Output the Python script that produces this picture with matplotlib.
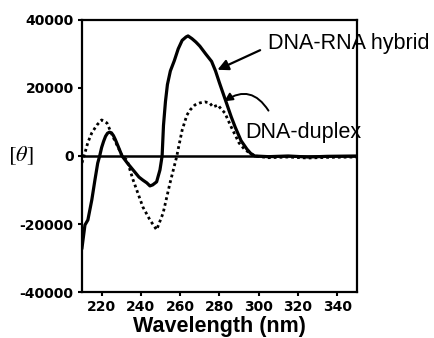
import matplotlib
matplotlib.use("Agg")
import matplotlib.pyplot as plt

plt.rcParams["mathtext.fontset"] = "stix"

# CD spectra
hybrid_wl = [210, 211.5, 213, 215, 216.6, 218, 219, 220, 221, 222, 223, 224, 225, 226,
             227, 228, 229, 230.4, 233, 236, 239, 241, 243, 244.6, 246, 248, 249.7, 250.8,
             251.5, 252.5, 253.5, 255, 257, 259, 261, 263, 264, 266, 268, 270, 273, 276,
             278, 280, 283, 286, 288, 291, 294, 296, 298, 305, 315, 325, 335, 350]
hybrid_th = [-27000, -20300, -18800, -12900, -7000, -2100, 0, 2500, 4300, 5800, 6700, 7000,
             6800, 6000, 4800, 3400, 2000, 0, -2000, -4100, -6200, -7100, -7900, -8800,
             -8500, -7600, -4100, 0, 9000, 16000, 21000, 25000, 28000, 31500, 34000, 35000,
             35300, 34500, 33500, 32300, 30000, 27800, 25000, 21500, 16500, 11500, 8500,
             4500, 2000, 700, 0, -200, 0, -300, -100, 0]

duplex_wl = [210, 211.5, 213, 215, 217.6, 220, 222.7, 225.8, 229, 230.4, 232.9, 236, 238.5,
             241, 244.6, 248, 251.3, 254.8, 258.3, 258.9, 261, 263.4, 265, 267.5, 270,
             272.6, 275, 276.7, 279.3, 280, 282.8, 286, 290, 293, 295.5, 298, 305, 315,
             325, 335, 350]
duplex_th = [-2000, 900, 4000, 6800, 9100, 10600, 9700, 5600, 1800, 0, -1200, -7000,
             -11000, -15000, -18800, -21700, -16800, -8000, 0, 1800, 7600, 12000, 13500,
             15000, 15600, 15900, 15600, 14400, 15000, 14400, 12600, 8500, 3800, 1800, 900,
             0, -500, -300, -600, -400, -300]

y_ticks = [-40000, -20000, 0, 20000, 40000]
x_ticks = [220, 240, 260, 280, 300, 320, 340]

fig = plt.figure(figsize=(4.35, 3.38), dpi=100)
ax = fig.add_axes([0.1885, 0.136, 0.632, 0.805])

ax.plot(hybrid_wl, hybrid_th, color="black", lw=2.3, solid_joinstyle="round")
ax.plot(duplex_wl, duplex_th, color="black", lw=2.0, linestyle=(0, (1, 1.1)))
ax.axhline(0, color="black", lw=1.8)

ax.set_xlim(210, 350)
ax.set_ylim(-40000, 40000)
ax.set_xticks(x_ticks)
ax.set_yticks(y_ticks)
ax.set_xticklabels([str(v) for v in x_ticks], fontweight="bold", fontsize=10, family="DejaVu Sans")
ax.set_yticklabels([str(v) for v in y_ticks], fontweight="bold", fontsize=10, family="DejaVu Sans")
ax.tick_params(direction="out", length=3, width=1.5, pad=3)
for sp in ax.spines.values():
    sp.set_linewidth(1.6)

ax.set_xlabel("Wavelength (nm)", family="Liberation Sans", fontweight="bold",
              fontsize=15.5, labelpad=1)
fig.text(0.048, 0.54, r"$[\theta]$", fontsize=16, ha="center", va="center")

# labels with arrows
ax.text(304.7, 33200, "DNA-RNA hybrid", family="Liberation Sans", fontsize=15.5,
        ha="left", va="center", clip_on=False)
ax.annotate("", xy=(277.7, 25000), xytext=(302, 31450),
            arrowprops=dict(arrowstyle="-|>", lw=1.6, color="black", mutation_scale=16),
            annotation_clip=False)
ax.text(293, 6760, "DNA-duplex", family="Liberation Sans", fontsize=15.5,
        ha="left", va="center", clip_on=False)
ax.annotate("", xy=(281.3, 15600), xytext=(305.7, 12640),
            arrowprops=dict(arrowstyle="-|>", lw=1.4, color="black", mutation_scale=12,
                            connectionstyle="arc3,rad=0.55"),
            annotation_clip=False)

fig.savefig("out.png", dpi=100)
